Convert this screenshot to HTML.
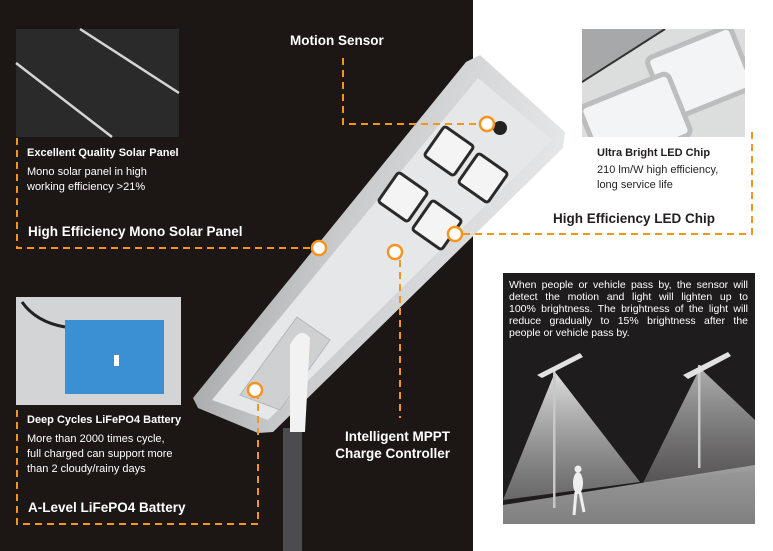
<!DOCTYPE html>
<html><head><style>
body{margin:0;width:773px;height:551px;overflow:hidden;background:#fff;font-family:"Liberation Sans",sans-serif;position:relative}
.t{position:absolute;white-space:nowrap}
.b13{font-weight:bold;font-size:13.5px}
.b11{font-weight:bold;font-size:11px}
.r11{font-size:11px;line-height:15px}
.j{text-align:justify;text-align-last:justify;white-space:nowrap}
</style></head><body>
<div style="position:absolute;left:0;top:0;width:473px;height:551px;background:#1c1714"></div>
<svg style="position:absolute;left:0;top:0" width="773" height="551">
<defs>
<linearGradient id="lg" x1="0" y1="0" x2="1" y2="0.3"><stop offset="0" stop-color="#8d9091"/><stop offset="0.5" stop-color="#c9cbcc"/><stop offset="1" stop-color="#e6e7e8"/></linearGradient>
<linearGradient id="cone" x1="0" y1="0" x2="0" y2="1"><stop offset="0" stop-color="#e8e8e8" stop-opacity=".95"/><stop offset="1" stop-color="#999" stop-opacity=".6"/></linearGradient>
<linearGradient id="gr" x1="0" y1="0" x2="0" y2="1"><stop offset="0" stop-color="#9a9a9a"/><stop offset="1" stop-color="#808080"/></linearGradient>
<clipPath id="cl"><rect x="582" y="29" width="163" height="108"/></clipPath>
<clipPath id="cs"><rect x="503" y="273" width="252" height="251"/></clipPath>
</defs>
<rect x="16" y="29" width="163" height="108" fill="#2b2a2a"/>
<path d="M80 29 L179 93 M16 63 L112 137" stroke="#d5d5d5" stroke-width="2.5"/>
<g clip-path="url(#cl)">
<rect x="582" y="29" width="163" height="108" fill="#dcdddd"/>
<polygon points="582,29 665,29 582,82" fill="#a6a8aa"/>
<path d="M582 82 L665 29" stroke="#333" stroke-width="2"/>
<rect x="655" y="40" width="90" height="66" rx="6" fill="#f3f4f5" stroke="#bcbdbe" stroke-width="5" transform="rotate(-22 700 73)"/>
<rect x="588" y="88" width="95" height="66" rx="6" fill="#f3f4f5" stroke="#bcbdbe" stroke-width="5" transform="rotate(-22 635 121)"/>
</g>
<rect x="16" y="297" width="165" height="108" fill="#d3d4d5"/>
<rect x="65" y="320" width="99" height="74" fill="#3b8fd3"/>
<rect x="114" y="355" width="5" height="11" fill="#fff"/>
<path d="M22 302 Q36 322 65 327" stroke="#222" stroke-width="3" fill="none"/>
<polygon points="466,62 480,55 565,132 563,148 273,432 258,433 198,408 193,398" fill="url(#lg)"/>
<polygon points="478,78 552,140 268,420 212,400" fill="#e6e7e8"/>
<g fill="#f4f4f4" stroke="#2a2a2a" stroke-width="3">
<rect x="431" y="133" width="36" height="36" rx="3" transform="rotate(35 449 151)"/>
<rect x="465" y="160" width="36" height="36" rx="3" transform="rotate(35 483 178)"/>
<rect x="385" y="179" width="36" height="36" rx="3" transform="rotate(35 403 197)"/>
<rect x="419" y="207" width="36" height="36" rx="3" transform="rotate(35 437 225)"/>
</g>
<circle cx="500" cy="128" r="7" fill="#222"/>
<polygon points="297,317 330,340 280,410 240,395" fill="#cfd0d1" stroke="#b5b6b7"/>
<rect x="283" y="428" width="19" height="123" fill="#4b4b50"/>
<path d="M290 345 Q300 325 310 338 L305 432 L290 432 Z" fill="#f2f2f2"/>
<g clip-path="url(#cs)">
<rect x="503" y="273" width="252" height="251" fill="#1f1c1d"/>
<polygon points="503,505 755,465 755,524 503,524" fill="url(#gr)"/>
<polygon points="555,372 503,500 640,482" fill="url(#cone)"/>
<polygon points="700,368 643,483 755,470 755,420" fill="url(#cone)" opacity=".75"/>
<rect x="553" y="370" width="2.5" height="138" fill="#c8c8c8"/>
<rect x="698" y="365" width="2.5" height="103" fill="#c8c8c8"/>
<polygon points="537,375 580,353 583,357 542,378" fill="#e2e2e2"/>
<polygon points="683,375 728,352 731,356 688,379" fill="#e2e2e2"/>
<ellipse cx="578" cy="483" rx="5" ry="11" fill="#eee"/>
<path d="M576 492 L574 515 M580 492 L584 512" stroke="#eee" stroke-width="3"/>
<circle cx="578" cy="469" r="3.5" fill="#eee"/>
</g>
<g stroke="#f7941d" stroke-width="2" stroke-dasharray="7 5" fill="none">
<path d="M17 138 V248 H316"/>
<path d="M343 58 V124 H481"/>
<path d="M752 132 V234 H463"/>
<path d="M400 260 V418"/>
<path d="M17 410 V524 H258 V398"/>
</g>
<g fill="#fff" stroke="#f7941d" stroke-width="2.5">
<circle cx="319" cy="248" r="7"/>
<circle cx="487" cy="124" r="7"/>
<circle cx="455" cy="234" r="7"/>
<circle cx="395" cy="252" r="7"/>
<circle cx="255" cy="390" r="7"/>
</g>
</svg>
<div class="t b13" style="left:290px;top:33px;color:#fff">Motion Sensor</div>
<div class="t b11" style="left:27px;top:147px;color:#fff">Excellent Quality Solar Panel</div>
<div class="t r11" style="left:27px;top:165px;color:#fff">Mono solar panel in high<br>working efficiency &gt;21%</div>
<div class="t b13" style="left:28px;top:224px;color:#fff">High Efficiency Mono Solar Panel</div>
<div class="t b11" style="left:597px;top:147px;color:#231f20">Ultra Bright LED Chip</div>
<div class="t r11" style="left:597px;top:163px;color:#231f20">210 lm/W high efficiency,<br>long service life</div>
<div class="t b13" style="left:553px;top:211px;color:#231f20">High Efficiency LED Chip</div>
<div class="t b13" style="left:300px;top:428px;width:150px;text-align:right;color:#fff;line-height:17px">Intelligent MPPT<br>Charge Controller</div>
<div class="t b11" style="left:27px;top:414px;color:#fff">Deep Cycles LiFePO4 Battery</div>
<div class="t r11" style="left:27px;top:432px;color:#fff">More than 2000 times cycle,<br>full charged can support more<br>than 2 cloudy/rainy days</div>
<div class="t b13" style="left:28px;top:500px;color:#fff">A-Level LiFePO4 Battery</div>
<div style="position:absolute;left:509px;top:279px;width:239px;font-size:10.5px;line-height:12px;color:#fff">
<div class="j">When people or vehicle pass by, the sensor will</div>
<div class="j">detect the motion and light will lighten up to</div>
<div class="j">100% brightness. The brightness of the light will</div>
<div class="j">reduce gradually to 15% brightness after the</div>
<div style="white-space:nowrap">people or vehicle pass by.</div>
</div>
</body></html>
